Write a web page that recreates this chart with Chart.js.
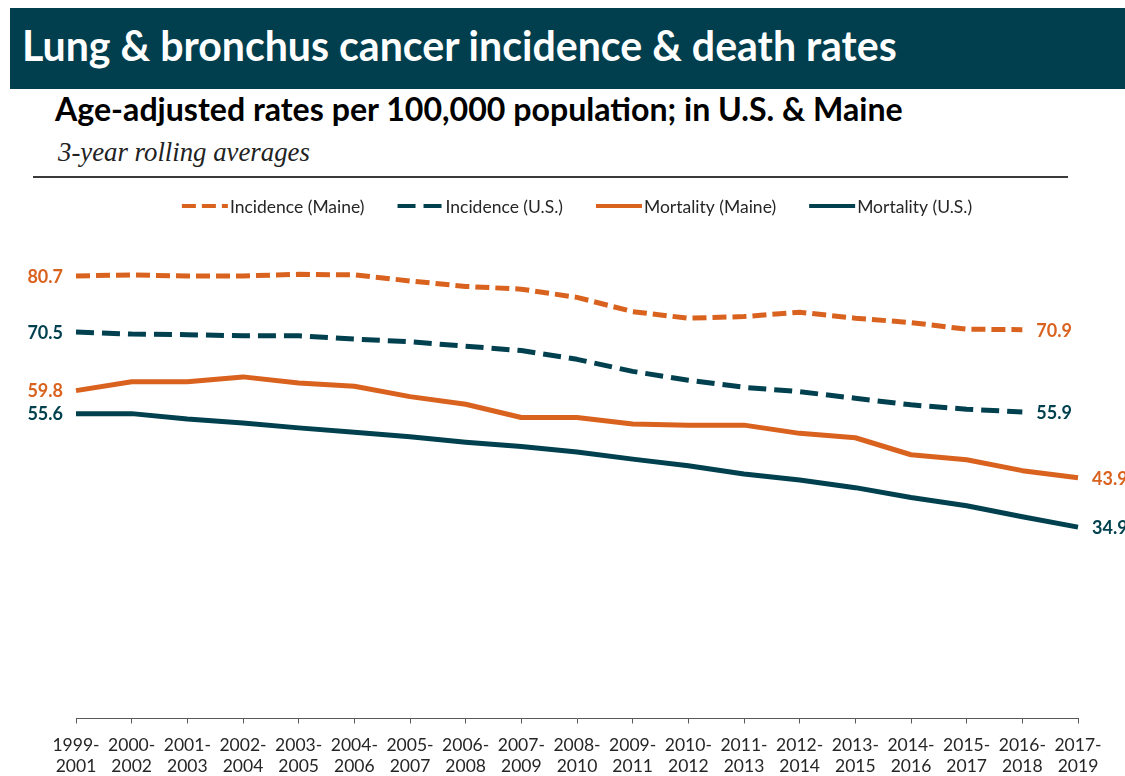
<!DOCTYPE html>
<html>
<head>
<meta charset="utf-8">
<script src="https://cdn.jsdelivr.net/npm/chart.js@4.4.1/dist/chart.umd.min.js"></script>
<style>
html,body{margin:0;padding:0;background:#fff;}
body{width:1125px;height:776px;overflow:hidden;position:relative;font-family:Lato,"Noto Sans",sans-serif;}
#banner{position:absolute;left:10px;top:8px;width:1115px;height:81px;background:#013F4E;}
.txt{position:absolute;white-space:nowrap;line-height:1;}
#title{left:22px;top:30px;color:#fff;font-weight:700;font-size:38px;}
#subtitle{left:55px;top:98px;color:#000;font-weight:700;font-size:30px;}
#note{left:58px;top:143px;color:#222;font-style:italic;font-family:"Liberation Serif",serif;font-size:22px;}
#rule{position:absolute;left:33px;top:176px;width:1035px;height:2px;background:#3a3a3a;}
#wrap{position:absolute;left:0;top:180px;width:1125px;height:596px;}
.bl{display:inline-block;width:0;height:0;vertical-align:baseline;}
</style>
</head>
<body>
<div id="banner"></div>
<div class="txt" id="title">Lung &amp; bronchus cancer incidence &amp; death rates<span class="bl"></span></div>
<div class="txt" id="subtitle">Age-adjusted rates per 100,000 population; in U.S. &amp; Maine<span class="bl"></span></div>
<div class="txt" id="note">3-year rolling averages<span class="bl"></span></div>
<div id="rule"></div>
<div id="wrap"><canvas id="c" width="1125" height="596"></canvas></div>
<script>
// ---- data ----
const categories = [
  ['1999-','2001'],['2000-','2002'],['2001-','2003'],['2002-','2004'],['2003-','2005'],
  ['2004-','2006'],['2005-','2007'],['2006-','2008'],['2007-','2009'],['2008-','2010'],
  ['2009-','2011'],['2010-','2012'],['2011-','2013'],['2012-','2014'],['2013-','2015'],
  ['2014-','2016'],['2015-','2017'],['2016-','2018'],['2017-','2019']
];
const incidenceMaine = [80.7,80.9,80.7,80.7,81.0,80.9,79.8,78.8,78.3,76.8,74.2,73.0,73.3,74.1,73.0,72.2,71.0,70.9,null];
const incidenceUS    = [70.5,70.1,70.0,69.8,69.8,69.2,68.7,67.9,67.1,65.5,63.3,61.7,60.4,59.6,58.4,57.2,56.4,55.9,null];
const mortalityMaine = [59.8,61.4,61.4,62.3,61.2,60.6,58.7,57.3,54.9,54.9,53.7,53.5,53.5,52.0,51.2,48.1,47.2,45.2,43.9];
const mortalityUS    = [55.6,55.6,54.6,53.9,53.0,52.2,51.4,50.4,49.6,48.6,47.3,46.1,44.6,43.5,42.1,40.3,38.8,36.8,34.9];
const seriesNames = ['Incidence (Maine)','Incidence (U.S.)','Mortality (Maine)','Mortality (U.S.)'];

// ---- header text fitting ----
function place(id, left, width, baseline){
  const el = document.getElementById(id);
  const w = el.getBoundingClientRect().width;
  const fs = parseFloat(getComputedStyle(el).fontSize);
  el.style.fontSize = (fs*width/w) + 'px';
  const b = el.querySelector('.bl').getBoundingClientRect().top;
  const top = parseFloat(getComputedStyle(el).top);
  el.style.top = (top + baseline - b) + 'px';
  el.style.left = left + 'px';
}
place('title', 22, 875, 61);
place('subtitle', 55, 848, 120.5);
place('note', 58, 252, 160.5);

const ORANGE = '#D9621F';
const TEAL = '#01414F';

const endLabels = {
  id:'endLabels',
  afterDatasetsDraw(chart){
    const ctx = chart.ctx;
    ctx.save();
    ctx.font = 'bold 18px Lato';
    ctx.textBaseline = 'middle';
    chart.data.datasets.forEach((ds,di)=>{
      const pts = chart.getDatasetMeta(di).data;
      let last = ds.data.length-1;
      while(ds.data[last]==null) last--;
      ctx.fillStyle = ds.borderColor;
      ctx.textAlign = 'right';
      ctx.fillText(ds.data[0].toFixed(1), pts[0].x-13, pts[0].y+1);
      ctx.textAlign = 'left';
      ctx.fillText(ds.data[last].toFixed(1), pts[last].x+14, pts[last].y+1);
    });
    ctx.restore();
  }
};

const customLegend = {
  id:'customLegend',
  afterDraw(chart){
    const ctx = chart.ctx;
    ctx.save();
    ctx.font = '17.5px Lato';
    const lineLen = 46, gap = 2, itemGap = 33;
    const items = chart.data.datasets.map(ds=>({ds, w:ctx.measureText(ds.label).width}));
    const total = items.reduce((s,it)=>s+lineLen+gap+it.w,0) + itemGap*(items.length-1);
    let x = (chart.chartArea.left+chart.chartArea.right)/2 - total/2;
    const y = 26;
    items.forEach(it=>{
      ctx.strokeStyle = it.ds.borderColor;
      ctx.lineWidth = 4;
      ctx.lineCap = 'butt';
      ctx.setLineDash(it.ds.borderDash || []);
      ctx.beginPath(); ctx.moveTo(x,y); ctx.lineTo(x+lineLen,y); ctx.stroke();
      ctx.setLineDash([]);
      ctx.fillStyle = '#262626';
      ctx.textBaseline = 'middle';
      ctx.textAlign = 'left';
      ctx.fillText(it.ds.label, x+lineLen+gap, y+1);
      x += lineLen+gap+it.w+itemGap;
    });
    ctx.restore();
  }
};

const mk = (label, data, color, dash) => ({
  label, data, borderColor: color, backgroundColor: color,
  borderWidth: 5, borderDash: dash, pointRadius: 0, pointHoverRadius: 0,
  tension: 0, fill: false, spanGaps: false, clip: false, borderCapStyle:'butt', borderJoinStyle:'round'
});

new Chart(document.getElementById('c'), {
  type: 'line',
  data: {
    labels: categories,
    datasets: [
      mk(seriesNames[0], incidenceMaine, ORANGE, [14,6]),
      mk(seriesNames[1], incidenceUS, TEAL, [18,8]),
      mk(seriesNames[2], mortalityMaine, ORANGE, []),
      mk(seriesNames[3], mortalityUS, TEAL, [])
    ]
  },
  options: {
    responsive: false,
    animation: false,
    events: [],
    layout: { padding: { left: 76, right: 47, top: 45, bottom: 0 } },
    plugins: { legend: { display: false }, tooltip: { enabled: false }, title: { display: false } },
    scales: {
      x: {
        offset: false,
        afterFit: (scale) => { scale.height = 57.5; },
        grid: { display: true, drawOnChartArea: false, drawTicks: true, tickLength: 5, color: '#595959', lineWidth: 1 },
        border: { display: true, color: '#595959', width: 1 },
        ticks: { color: '#262626', font: { family: 'Lato', size: 17.5, lineHeight: 1.2 }, padding: 11, maxRotation: 0, minRotation: 0, autoSkip: false }
      },
      y: { display: false, min: 0, max: 90 }
    }
  },
  plugins: [endLabels, customLegend]
});
</script>
</body>
</html>
